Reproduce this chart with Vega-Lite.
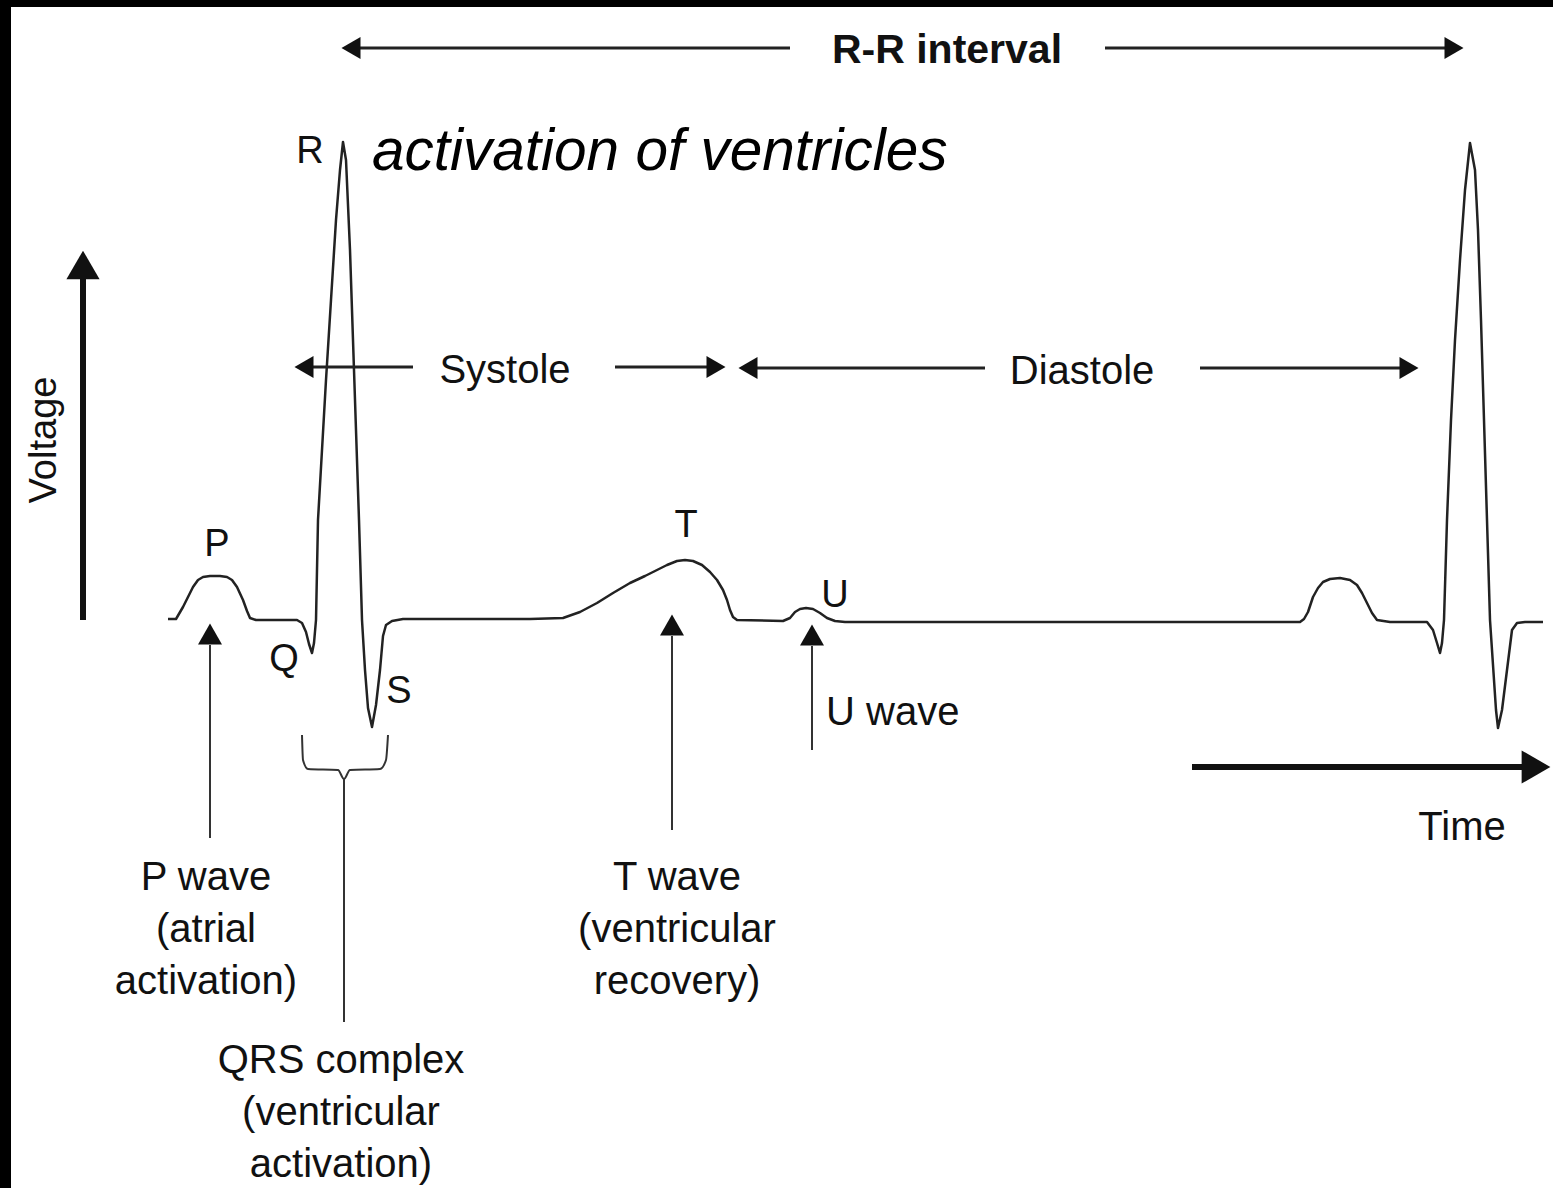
{
  "$schema": "https://vega.github.io/schema/vega-lite/v6.json",
  "width": 1553,
  "height": 1188,
  "autosize": {"type": "fit", "contains": "padding"},
  "padding": 0,
  "background": "white",
  "config": {"view": {"stroke": null}, "text": {"font": "Liberation Sans", "color": "#111"}},
  "datasets": {
    "border": [
      {"x": 0, "x2": 11, "y": 0, "y2": 1188},
      {"x": 0, "x2": 1553, "y": 0, "y2": 7}
    ],
    "ecg": [
      {"x": 168, "y": 619}, {"x": 176, "y": 619}, {"x": 183, "y": 607}, {"x": 188, "y": 597}, {"x": 193, "y": 587},
      {"x": 198, "y": 580}, {"x": 203, "y": 577}, {"x": 210, "y": 576}, {"x": 220, "y": 576}, {"x": 227, "y": 577},
      {"x": 232, "y": 580}, {"x": 237, "y": 587}, {"x": 243, "y": 600}, {"x": 247, "y": 611}, {"x": 250, "y": 618},
      {"x": 256, "y": 620}, {"x": 297, "y": 620}, {"x": 302, "y": 623}, {"x": 306, "y": 632}, {"x": 309, "y": 644},
      {"x": 312, "y": 653}, {"x": 314, "y": 643}, {"x": 316, "y": 620}, {"x": 318, "y": 520}, {"x": 322, "y": 450},
      {"x": 326, "y": 380}, {"x": 331, "y": 300}, {"x": 336, "y": 220}, {"x": 340, "y": 170}, {"x": 343, "y": 142},
      {"x": 346, "y": 160}, {"x": 350, "y": 250}, {"x": 354, "y": 370}, {"x": 359, "y": 520}, {"x": 362, "y": 620},
      {"x": 365, "y": 670}, {"x": 368, "y": 708}, {"x": 372, "y": 727}, {"x": 376, "y": 705}, {"x": 380, "y": 670},
      {"x": 383, "y": 636}, {"x": 386, "y": 625}, {"x": 392, "y": 621}, {"x": 403, "y": 619}, {"x": 530, "y": 619},
      {"x": 563, "y": 618}, {"x": 580, "y": 612}, {"x": 597, "y": 603}, {"x": 613, "y": 593}, {"x": 630, "y": 583},
      {"x": 645, "y": 576}, {"x": 657, "y": 570}, {"x": 667, "y": 565}, {"x": 677, "y": 561}, {"x": 685, "y": 560},
      {"x": 693, "y": 561}, {"x": 702, "y": 565}, {"x": 710, "y": 572}, {"x": 717, "y": 580}, {"x": 723, "y": 590},
      {"x": 727, "y": 600}, {"x": 730, "y": 610}, {"x": 733, "y": 617}, {"x": 737, "y": 620}, {"x": 783, "y": 621},
      {"x": 790, "y": 618}, {"x": 795, "y": 612}, {"x": 800, "y": 609}, {"x": 806, "y": 608}, {"x": 813, "y": 609},
      {"x": 820, "y": 613}, {"x": 827, "y": 618}, {"x": 835, "y": 621}, {"x": 845, "y": 622}, {"x": 1300, "y": 622},
      {"x": 1304, "y": 619}, {"x": 1308, "y": 612}, {"x": 1313, "y": 597}, {"x": 1318, "y": 588}, {"x": 1323, "y": 582},
      {"x": 1330, "y": 579}, {"x": 1340, "y": 578}, {"x": 1350, "y": 580}, {"x": 1357, "y": 585}, {"x": 1362, "y": 593},
      {"x": 1367, "y": 603}, {"x": 1372, "y": 613}, {"x": 1377, "y": 620}, {"x": 1390, "y": 622}, {"x": 1427, "y": 622},
      {"x": 1433, "y": 630}, {"x": 1437, "y": 643}, {"x": 1440, "y": 653}, {"x": 1442, "y": 643}, {"x": 1444, "y": 620},
      {"x": 1447, "y": 520}, {"x": 1451, "y": 420}, {"x": 1455, "y": 340}, {"x": 1460, "y": 260}, {"x": 1465, "y": 190},
      {"x": 1470, "y": 143}, {"x": 1475, "y": 170}, {"x": 1478, "y": 230}, {"x": 1481, "y": 320}, {"x": 1484, "y": 420},
      {"x": 1487, "y": 520}, {"x": 1490, "y": 620}, {"x": 1493, "y": 665}, {"x": 1496, "y": 710}, {"x": 1498, "y": 728},
      {"x": 1502, "y": 710}, {"x": 1507, "y": 670}, {"x": 1512, "y": 630}, {"x": 1517, "y": 623}, {"x": 1525, "y": 622},
      {"x": 1543, "y": 622}
    ],
    "bracket": [
      {"x": 302, "y": 735}, {"x": 303, "y": 760}, {"x": 308, "y": 769}, {"x": 338, "y": 770}, {"x": 344, "y": 779},
      {"x": 350, "y": 770}, {"x": 380, "y": 769}, {"x": 386, "y": 760}, {"x": 388, "y": 735}
    ],
    "mediumRules": [
      {"x": 345, "y": 48, "x2": 790, "y2": 48},
      {"x": 1105, "y": 48, "x2": 1450, "y2": 48},
      {"x": 300, "y": 367, "x2": 413, "y2": 367},
      {"x": 615, "y": 367, "x2": 715, "y2": 367},
      {"x": 745, "y": 368, "x2": 985, "y2": 368},
      {"x": 1200, "y": 368, "x2": 1410, "y2": 368}
    ],
    "mediumHeads": [
      {"x": 351, "y": 48, "dir": "left"},
      {"x": 1454, "y": 48, "dir": "right"},
      {"x": 304, "y": 367, "dir": "left"},
      {"x": 716, "y": 367, "dir": "right"},
      {"x": 748, "y": 368, "dir": "left"},
      {"x": 1409, "y": 368, "dir": "right"}
    ],
    "thinRules": [
      {"x": 210, "y": 645, "x2": 210, "y2": 838},
      {"x": 672, "y": 636, "x2": 672, "y2": 830},
      {"x": 812, "y": 646, "x2": 812, "y2": 750},
      {"x": 344, "y": 778, "x2": 344, "y2": 1022}
    ],
    "thinHeads": [
      {"x": 210, "y": 634, "dir": "up"},
      {"x": 672, "y": 625, "dir": "up"},
      {"x": 812, "y": 635, "dir": "up"}
    ],
    "axisArrows": [
      {"x": 83, "y": 620, "x2": 83, "y2": 275, "kind": "voltage"},
      {"x": 1192, "y": 767, "x2": 1525, "y2": 767, "kind": "time"}
    ],
    "axisHeads": [
      {"x": 83, "y": 265, "dir": "up"},
      {"x": 1536, "y": 767, "dir": "right"}
    ],
    "labels": [
      {"x": 505, "y": 383, "label": "Systole"},
      {"x": 1082, "y": 384, "label": "Diastole"},
      {"x": 1462, "y": 840, "label": "Time"},
      {"x": 206, "y": 890, "label": "P wave"},
      {"x": 206, "y": 942, "label": "(atrial"},
      {"x": 206, "y": 994, "label": "activation)"},
      {"x": 677, "y": 890, "label": "T wave"},
      {"x": 677, "y": 942, "label": "(ventricular"},
      {"x": 677, "y": 994, "label": "recovery)"},
      {"x": 341, "y": 1073, "label": "QRS complex"},
      {"x": 341, "y": 1125, "label": "(ventricular"},
      {"x": 341, "y": 1177, "label": "activation)"}
    ],
    "leftLabels": [
      {"x": 826, "y": 725, "label": "U wave"}
    ],
    "letters": [
      {"x": 310, "y": 163, "label": "R"},
      {"x": 217, "y": 556, "label": "P"},
      {"x": 284, "y": 671, "label": "Q"},
      {"x": 399, "y": 703, "label": "S"},
      {"x": 686, "y": 537, "label": "T"},
      {"x": 835, "y": 607, "label": "U"}
    ],
    "boldLabels": [
      {"x": 947, "y": 63, "label": "R-R interval"}
    ],
    "italicLabels": [
      {"x": 372, "y": 170, "label": "activation of ventricles"}
    ],
    "rotLabels": [
      {"x": 45, "y": 440, "label": "Voltage"}
    ]
  },
  "encoding": {
    "x": {"field": "x", "type": "quantitative", "scale": {"domain": [0, 1553], "nice": false, "zero": false}, "axis": null},
    "y": {"field": "y", "type": "quantitative", "scale": {"domain": [0, 1188], "nice": false, "zero": false, "reverse": true}, "axis": null}
  },
  "layer": [
    {
      "data": {"name": "border"},
      "mark": {"type": "rect", "fill": "black"},
      "encoding": {"x2": {"field": "x2"}, "y2": {"field": "y2"}}
    },
    {
      "data": {"name": "ecg"},
      "mark": {"type": "line", "stroke": "#222", "strokeWidth": 2.5, "strokeJoin": "round"}
    },
    {
      "data": {"name": "bracket"},
      "mark": {"type": "line", "stroke": "#333", "strokeWidth": 2, "interpolate": "monotone"}
    },
    {
      "data": {"name": "mediumRules"},
      "mark": {"type": "rule", "stroke": "#222", "strokeWidth": 3},
      "encoding": {"x2": {"field": "x2"}, "y2": {"field": "y2"}}
    },
    {
      "data": {"name": "mediumHeads"},
      "mark": {"type": "point", "filled": true, "fill": "#111", "opacity": 1, "size": 484, "strokeWidth": 0},
      "encoding": {"shape": {"field": "dir", "type": "nominal", "scale": {"domain": ["left", "right", "up"], "range": ["triangle-left", "triangle-right", "triangle-up"]}, "legend": null}}
    },
    {
      "data": {"name": "thinRules"},
      "mark": {"type": "rule", "stroke": "#333", "strokeWidth": 2},
      "encoding": {"x2": {"field": "x2"}, "y2": {"field": "y2"}}
    },
    {
      "data": {"name": "thinHeads"},
      "mark": {"type": "point", "filled": true, "fill": "#111", "opacity": 1, "size": 576, "strokeWidth": 0},
      "encoding": {"shape": {"field": "dir", "type": "nominal", "scale": {"domain": ["left", "right", "up"], "range": ["triangle-left", "triangle-right", "triangle-up"]}, "legend": null}}
    },
    {
      "data": {"name": "axisArrows"},
      "mark": {"type": "rule", "stroke": "#111", "strokeWidth": 6},
      "encoding": {"x2": {"field": "x2"}, "y2": {"field": "y2"}}
    },
    {
      "data": {"name": "axisHeads"},
      "mark": {"type": "point", "filled": true, "fill": "#111", "opacity": 1, "size": 1100, "strokeWidth": 0},
      "encoding": {"shape": {"field": "dir", "type": "nominal", "scale": {"domain": ["left", "right", "up"], "range": ["triangle-left", "triangle-right", "triangle-up"]}, "legend": null}}
    },
    {
      "data": {"name": "labels"},
      "mark": {"type": "text", "fontSize": 40, "align": "center", "baseline": "alphabetic"},
      "encoding": {"text": {"field": "label"}}
    },
    {
      "data": {"name": "leftLabels"},
      "mark": {"type": "text", "fontSize": 40, "align": "left", "baseline": "alphabetic"},
      "encoding": {"text": {"field": "label"}}
    },
    {
      "data": {"name": "letters"},
      "mark": {"type": "text", "fontSize": 38, "align": "center", "baseline": "alphabetic"},
      "encoding": {"text": {"field": "label"}}
    },
    {
      "data": {"name": "boldLabels"},
      "mark": {"type": "text", "fontSize": 41, "fontWeight": "bold", "align": "center", "baseline": "alphabetic"},
      "encoding": {"text": {"field": "label"}}
    },
    {
      "data": {"name": "italicLabels"},
      "mark": {"type": "text", "fontSize": 58.5, "fontStyle": "italic", "align": "left", "baseline": "alphabetic", "color": "black"},
      "encoding": {"text": {"field": "label"}}
    },
    {
      "data": {"name": "rotLabels"},
      "mark": {"type": "text", "fontSize": 38, "angle": 270, "align": "center", "baseline": "middle"},
      "encoding": {"text": {"field": "label"}}
    }
  ]
}
